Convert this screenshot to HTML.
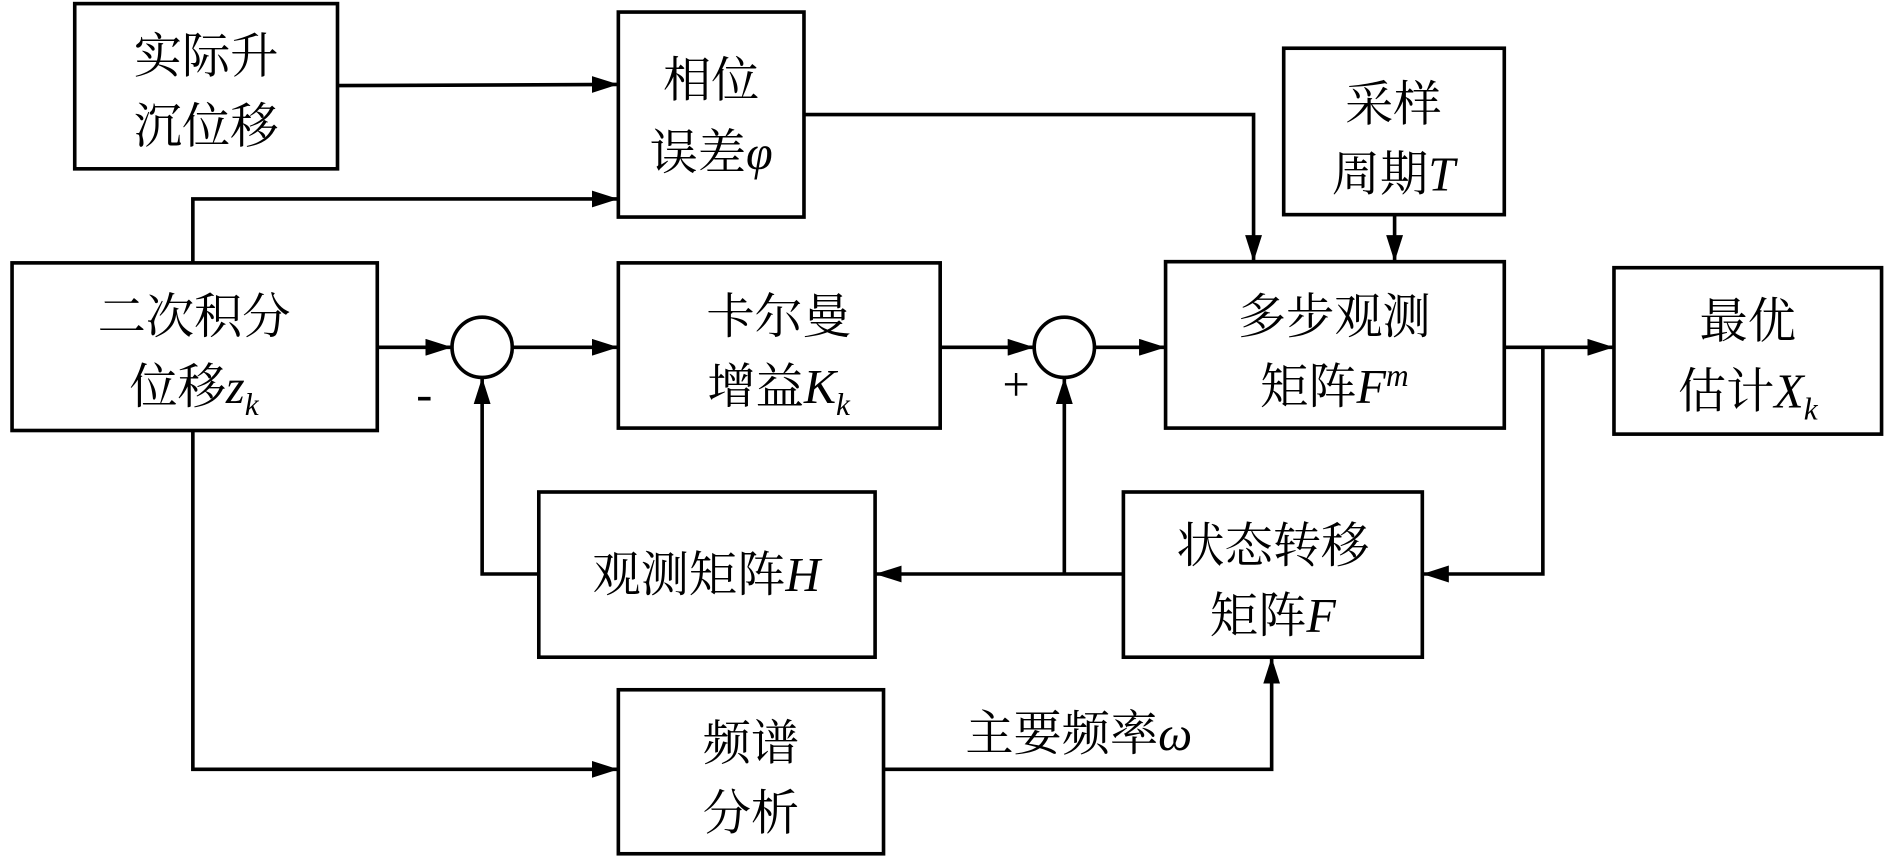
<!DOCTYPE html>
<html><head><meta charset="utf-8"><style>
html,body{margin:0;padding:0;background:#fff;}
svg{display:block;}
text{font-family:"Liberation Serif","Noto Serif CJK SC","Noto Sans CJK SC",serif;font-size:40px;fill:#000;}
.m{font-family:"Liberation Serif",serif;font-style:italic;}
</style></head><body>
<svg width="1890" height="861" viewBox="0 0 1568 714" preserveAspectRatio="none" xmlns="http://www.w3.org/2000/svg">
<defs><marker id="a" markerWidth="10" markerHeight="8" refX="10" refY="4" orient="auto" markerUnits="userSpaceOnUse"><path d="M0,0 L24,4 L0,8z" transform="scale(1)"/></marker>
<marker id="b" markerWidth="22" markerHeight="14" refX="22" refY="7" orient="auto" markerUnits="userSpaceOnUse"><path d="M0,0 L22,7 L0,14z" fill="#000"/></marker></defs>
<g fill="none" stroke="#000" stroke-width="3">
<rect x="62" y="3" width="218" height="137"/>
<rect x="513" y="10" width="154" height="170"/>
<rect x="1065" y="40" width="183" height="138"/>
<rect x="10" y="218" width="303" height="139"/>
<rect x="513" y="218" width="267" height="137"/>
<rect x="967" y="217" width="281" height="138"/>
<rect x="1339" y="222" width="222" height="138"/>
<rect x="447" y="408" width="279" height="137"/>
<rect x="932" y="408" width="248" height="137"/>
<rect x="513" y="572" width="220" height="136"/>
<circle cx="400" cy="288" r="25"/>
<circle cx="883" cy="288" r="25"/>
</g>
<g fill="none" stroke="#000" stroke-width="3">
<path d="M280,71 L513,70" marker-end="url(#b)"/>
<path d="M160,218 L160,165 L513,165" marker-end="url(#b)"/>
<path d="M313,288 L375,288" marker-end="url(#b)"/>
<path d="M425,288 L513,288" marker-end="url(#b)"/>
<path d="M780,288 L858,288" marker-end="url(#b)"/>
<path d="M908,288 L967,288" marker-end="url(#b)"/>
<path d="M667,95 L1040,95 L1040,217" marker-end="url(#b)"/>
<path d="M1157,178 L1157,217" marker-end="url(#b)"/>
<path d="M1248,288 L1339,288" marker-end="url(#b)"/>
<path d="M1280,288 L1280,476 L1180,476" marker-end="url(#b)"/>
<path d="M932,476 L726,476" marker-end="url(#b)"/>
<path d="M883,476 L883,313" marker-end="url(#b)"/>
<path d="M447,476 L400,476 L400,313" marker-end="url(#b)"/>
<path d="M160,357 L160,638 L513,638" marker-end="url(#b)"/>
<path d="M733,638 L1055,638 L1055,545" marker-end="url(#b)"/>
</g>
<g text-anchor="middle">
<text x="171" y="60">实际升</text><text x="171" y="118">沉位移</text>
<text x="590" y="80">相位</text><text x="590" y="140">误差<tspan class="m">φ</tspan></text>
<text x="1156" y="100">采样</text><text x="1156" y="158">周期<tspan class="m">T</tspan></text>
<text x="161" y="276">二次积分</text><text x="161" y="334">位移<tspan class="m">z</tspan><tspan class="m" font-size="26" dy="10">k</tspan></text>
<text x="646" y="276">卡尔曼</text><text x="646" y="334">增益<tspan class="m">K</tspan><tspan class="m" font-size="26" dy="10">k</tspan></text>
<text x="1107" y="276">多步观测</text><text x="1107" y="334">矩阵<tspan class="m">F</tspan><tspan class="m" font-size="26" dy="-14">m</tspan></text>
<text x="1450" y="280">最优</text><text x="1450" y="338">估计<tspan class="m">X</tspan><tspan class="m" font-size="26" dy="10">k</tspan></text>
<text x="586" y="490">观测矩阵<tspan class="m">H</tspan></text>
<text x="1056" y="466">状态转移</text><text x="1056" y="524">矩阵<tspan class="m">F</tspan></text>
<text x="623" y="630">频谱</text><text x="623" y="688">分析</text>
<text x="895" y="622">主要频率<tspan class="m">ω</tspan></text>
<text x="352" y="340">-</text>
<text x="843" y="332">+</text>
</g>
</svg>
</body></html>
